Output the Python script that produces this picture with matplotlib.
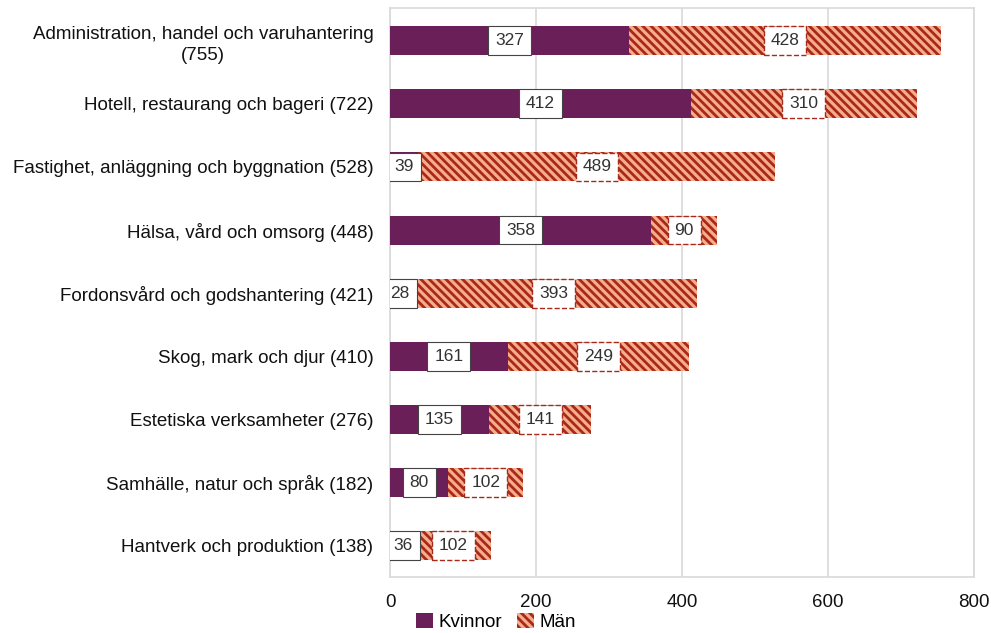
import matplotlib.pyplot as plt
from matplotlib.patches import Patch

plt.rcParams["font.family"] = ["Liberation Sans", "DejaVu Sans"]
plt.rcParams["hatch.linewidth"] = 2.0
plt.rcParams["hatch.color"] = "#a8291a"

categories = [
    "Administration, handel och varuhantering\n(755)",
    "Hotell, restaurang och bageri (722)",
    "Fastighet, anläggning och byggnation (528)",
    "Hälsa, vård och omsorg (448)",
    "Fordonsvård och godshantering (421)",
    "Skog, mark och djur (410)",
    "Estetiska verksamheter (276)",
    "Samhälle, natur och språk (182)",
    "Hantverk och produktion (138)",
]
kvinnor = [327, 412, 39, 358, 28, 161, 135, 80, 36]
man = [428, 310, 489, 90, 393, 249, 141, 102, 102]

purple = "#6a1f58"
salmon = "#f6ad8c"
darkred = "#a8291a"

fig = plt.figure(figsize=(9.91, 6.33), dpi=100)
ax = fig.add_axes([390 / 991, 1 - 577 / 633, 584 / 991, 569 / 633])

y = list(range(len(categories)))
ax.barh(y, kvinnor, height=0.46, color=purple, zorder=3)
ax.barh(y, man, left=kvinnor, height=0.46, color=salmon, hatch="\\\\\\\\",
        edgecolor=darkred, linewidth=0, zorder=3)

for i in y:
    ax.text(kvinnor[i] / 2, i, str(kvinnor[i]), ha="center", va="center",
            fontsize=12.5, color="#333333", zorder=5, clip_on=True,
            bbox=dict(boxstyle="square,pad=0.4", facecolor="white",
                      edgecolor="#444444", linewidth=0.8))
    ax.text(kvinnor[i] + man[i] / 2, i, str(man[i]), ha="center", va="center",
            fontsize=12.5, color="#333333", zorder=5,
            bbox=dict(boxstyle="square,pad=0.4", facecolor="white",
                      edgecolor=darkred, linewidth=1.0, linestyle="--"))

ax.set_yticks(y)
ax.set_yticklabels(categories, fontsize=13.5, color="#111111",
                   multialignment="center", linespacing=1.3)
ax.set_ylim(len(categories) - 0.5, -0.52)
ax.set_xlim(0, 800)
ax.set_xticks([0, 200, 400, 600, 800])
ax.tick_params(axis="x", labelsize=13.5, length=0, pad=12, colors="#111111")
ax.tick_params(axis="y", length=0, pad=12)
ax.grid(axis="x", color="#d9d9d9", linewidth=1.2, zorder=0)
for s in ax.spines.values():
    s.set_color("#d9d9d9")
    s.set_linewidth(1.2)

handles = [Patch(facecolor=purple, label="Kvinnor"),
           Patch(facecolor=salmon, hatch="\\\\\\\\", edgecolor=darkred, linewidth=0, label="Män")]
fig.legend(handles=handles, loc="center", bbox_to_anchor=(496 / 991, 1 - 622 / 633),
           ncol=2, frameon=False, fontsize=13.5, handlelength=0.9, handleheight=0.9,
           handletextpad=0.3, columnspacing=0.8, borderpad=0)

fig.savefig("out.png", dpi=100)
